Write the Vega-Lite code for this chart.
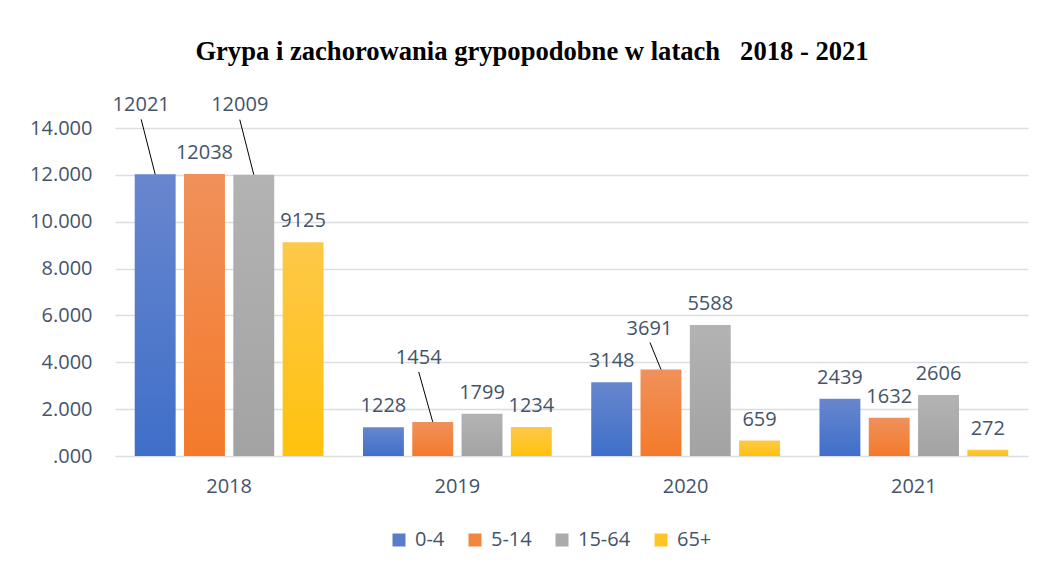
{
  "$schema": "https://vega.github.io/schema/vega-lite/v6.json",
  "width": 913,
  "height": 328,
  "autosize": {"type": "none"},
  "padding": {"left": 115, "top": 128, "right": 15, "bottom": 113},
  "background": "#ffffff",
  "config": {
    "view": {"stroke": null},
    "font": "Open Sans"
  },
  "title": {
    "text": "Grypa i zachorowania grypopodobne w latach\u00a0\u00a0 2018 - 2021",
    "font": "Liberation Serif",
    "fontSize": 26.6,
    "fontWeight": "bold",
    "color": "#000000",
    "anchor": "middle",
    "frame": "group",
    "baseline": "alphabetic",
    "dx": -39.5,
    "offset": 8
  },
  "data": {
    "values": [
      {"year": "2018", "group": "0-4", "value": 12021},
      {"year": "2018", "group": "5-14", "value": 12038},
      {"year": "2018", "group": "15-64", "value": 12009},
      {"year": "2018", "group": "65+", "value": 9125},
      {"year": "2019", "group": "0-4", "value": 1228},
      {"year": "2019", "group": "5-14", "value": 1454},
      {"year": "2019", "group": "15-64", "value": 1799},
      {"year": "2019", "group": "65+", "value": 1234},
      {"year": "2020", "group": "0-4", "value": 3148},
      {"year": "2020", "group": "5-14", "value": 3691},
      {"year": "2020", "group": "15-64", "value": 5588},
      {"year": "2020", "group": "65+", "value": 659},
      {"year": "2021", "group": "0-4", "value": 2439},
      {"year": "2021", "group": "5-14", "value": 1632},
      {"year": "2021", "group": "15-64", "value": 2606},
      {"year": "2021", "group": "65+", "value": 272}
    ]
  },
  "encoding": {
    "x": {
      "field": "year",
      "type": "nominal",
      "scale": {"domain": ["2018", "2019", "2020", "2021"], "paddingInner": 0, "paddingOuter": 0},
      "axis": {
        "title": null,
        "labelAngle": 0,
        "labelFontSize": 20,
        "labelColor": "#44546A",
        "labelPadding": 20,
        "ticks": false,
        "domain": false,
        "grid": false
      }
    },
    "xOffset": {
      "field": "group",
      "type": "nominal",
      "scale": {"domain": ["0-4", "5-14", "15-64", "65+"], "paddingInner": 0.17, "paddingOuter": 0.4}
    },
    "y": {
      "field": "value",
      "type": "quantitative",
      "scale": {"domain": [0, 14000], "nice": false},
      "axis": {
        "title": null,
        "values": [0, 2000, 4000, 6000, 8000, 10000, 12000, 14000],
        "labelExpr": "datum.value == 0 ? '.000' : format(datum.value / 1000, 'd') + '.000'",
        "labelFontSize": 20,
        "labelColor": "#44546A",
        "labelPadding": 23,
        "ticks": false,
        "domain": false,
        "grid": true,
        "gridColor": "#DADDE2",
        "gridWidth": 1.5
      }
    }
  },
  "layer": [
    {
      "mark": {"type": "bar"},
      "encoding": {
        "color": {
          "field": "group",
          "type": "nominal",
          "scale": {"domain": ["0-4", "5-14", "15-64", "65+"], "range": ["#5A7DCB", "#F2853F", "#ABABAB", "#FFC526"]},
          "legend": {
            "title": null,
            "orient": "none",
            "legendX": 274,
            "legendY": 402,
            "direction": "horizontal",
            "symbolType": "square",
            "symbolSize": 169,
            "symbolStrokeWidth": 0,
            "labelFontSize": 20,
            "labelColor": "#44546A",
            "labelOffset": 6,
            "columnPadding": 20,
            "padding": 0
          },
          "condition": [
            {"test": "datum.group === '0-4'", "value": {"gradient": "linear", "x1": 0, "y1": 0, "x2": 0, "y2": 1, "stops": [{"offset": 0, "color": "#6886CE"}, {"offset": 1, "color": "#3F6FC9"}]}},
            {"test": "datum.group === '5-14'", "value": {"gradient": "linear", "x1": 0, "y1": 0, "x2": 0, "y2": 1, "stops": [{"offset": 0, "color": "#F0915B"}, {"offset": 1, "color": "#F47A2A"}]}},
            {"test": "datum.group === '15-64'", "value": {"gradient": "linear", "x1": 0, "y1": 0, "x2": 0, "y2": 1, "stops": [{"offset": 0, "color": "#B3B3B3"}, {"offset": 1, "color": "#A3A3A3"}]}},
            {"test": "datum.group === '65+'", "value": {"gradient": "linear", "x1": 0, "y1": 0, "x2": 0, "y2": 1, "stops": [{"offset": 0, "color": "#FEC84A"}, {"offset": 1, "color": "#FFC20C"}]}}
          ]
        }
      }
    },
    {
      "transform": [{"filter": "!((datum.year === '2018' && (datum.group === '0-4' || datum.group === '15-64')) || (datum.year === '2019' && datum.group === '5-14') || (datum.year === '2020' && datum.group === '5-14'))"}],
      "mark": {"type": "text", "fontSize": 20, "color": "#44546A", "baseline": "middle", "dy": -21},
      "encoding": {"text": {"field": "value", "type": "quantitative", "format": "d"}}
    },
    {
      "transform": [{"filter": "datum.year === '2018' && (datum.group === '0-4' || datum.group === '15-64')"}],
      "mark": {"type": "text", "fontSize": 20, "color": "#44546A", "baseline": "middle", "dx": -14, "dy": -69.5},
      "encoding": {"text": {"field": "value", "type": "quantitative", "format": "d"}}
    },
    {
      "transform": [{"filter": "datum.year === '2019' && datum.group === '5-14'"}],
      "mark": {"type": "text", "fontSize": 20, "color": "#44546A", "baseline": "middle", "dx": -14, "dy": -64},
      "encoding": {"text": {"field": "value", "type": "quantitative", "format": "d"}}
    },
    {
      "transform": [{"filter": "datum.year === '2020' && datum.group === '5-14'"}],
      "mark": {"type": "text", "fontSize": 20, "color": "#44546A", "baseline": "middle", "dx": -11.5, "dy": -40.5},
      "encoding": {"text": {"field": "value", "type": "quantitative", "format": "d"}}
    },
    {
      "transform": [{"filter": "datum.year === '2018' && (datum.group === '0-4' || datum.group === '15-64')"}],
      "mark": {"type": "point", "shape": "M0,0L-14,-55", "size": 4, "filled": false, "stroke": "#000000", "strokeWidth": 1, "opacity": 1}
    },
    {
      "transform": [{"filter": "datum.year === '2019' && datum.group === '5-14'"}],
      "mark": {"type": "point", "shape": "M0,0L-14,-50", "size": 4, "filled": false, "stroke": "#000000", "strokeWidth": 1, "opacity": 1}
    },
    {
      "transform": [{"filter": "datum.year === '2020' && datum.group === '5-14'"}],
      "mark": {"type": "point", "shape": "M0,0L-11,-27", "size": 4, "filled": false, "stroke": "#000000", "strokeWidth": 1, "opacity": 1}
    }
  ]
}
